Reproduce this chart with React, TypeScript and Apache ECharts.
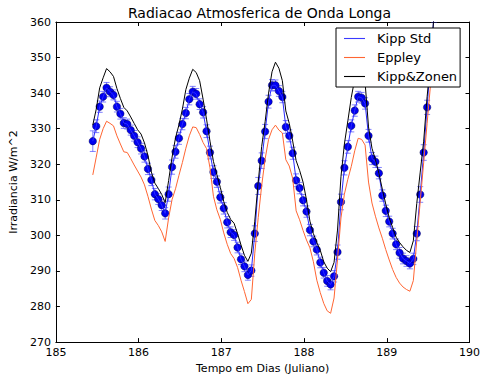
import React, { useEffect, useRef } from 'react';
import * as echarts from 'echarts';

// Hourly samples starting at day 185.446 (Julian day)
const startDay = 185.446;
const hourStep = 1 / 24;

const kippStd = [
  326.5, 330.7, 336.2, 339, 341.5, 340.4, 339.5, 336.2, 334.2, 331.6,
  331.3, 329.6, 328, 326.2, 324.4, 322.2, 318.7, 315.6, 311.6, 310.2,
  308.5, 306.2, 311.6, 319.2, 323.5, 327.3, 331.3, 334.4, 338.3, 340.4,
  339.8, 336.9, 334.6, 329.3, 323.3, 317.8, 315.1, 310.7, 307.6, 303.7,
  300.9, 300.1, 296.6, 293.3, 291.3, 288.9, 290.1, 300.5, 313.9, 321,
  329.2, 337.6, 342.2, 342.2, 340.6, 338.9, 330.5, 328, 323.1, 315.5,
  313.3, 309.9, 306.7, 301.5, 298.3, 296, 292.4, 289.5, 287.2, 286.2,
  288.5, 295.3, 309.4, 319, 324.9, 330.8, 335.1, 339, 338.7, 337.1,
  328, 321.6, 320.7, 317.5, 311.2, 306.9, 303.9, 300.5, 297.5, 295.1,
  293.5, 292.8, 292.1, 293.4, 300.5, 311.5, 323.3, 336, 349, 362,
];

const kippStdErr = [
  2.9, 1.8, 1.6, 1.5, 1.5, 1.4, 1.4, 1.5, 1.5, 1.5,
  1.4, 1.4, 1.5, 1.5, 1.5, 1.6, 1.6, 1.6, 1.6, 1.5,
  1.5, 1.6, 2.0, 2.0, 1.8, 1.7, 1.6, 1.6, 1.6, 1.5,
  1.5, 1.5, 1.6, 1.8, 1.8, 1.8, 1.6, 1.6, 1.6, 1.6,
  1.5, 1.5, 1.5, 1.5, 1.5, 1.5, 1.6, 2.2, 2.4, 2.2,
  2.0, 1.8, 1.6, 1.5, 1.5, 1.6, 1.8, 1.7, 1.7, 1.8,
  1.6, 1.6, 1.6, 1.6, 1.5, 1.5, 1.5, 1.5, 1.5, 1.5,
  1.6, 2.0, 2.2, 2.0, 1.8, 1.7, 1.6, 1.5, 1.5, 1.6,
  1.8, 1.7, 1.6, 1.6, 1.6, 1.6, 1.5, 1.5, 1.5, 1.5,
  1.5, 1.5, 1.5, 1.6, 2.0, 2.2, 2.2, 2.0, 2.0, 2.0,
];

const eppley = [
  317, 322, 327, 330, 332.1, 331.5, 330.8, 328, 325.7, 323.5,
  323.3, 321.6, 319.8, 318.1, 316.4, 314.2, 311, 307.4, 304.2, 302.8,
  301, 298.3, 304.9, 310.1, 313.1, 316.9, 320.5, 324.5, 328, 330.5,
  330.3, 328.4, 326.1, 324.4, 319, 311, 307.2, 304.5, 300.7, 297.5,
  294.9, 293.5, 291, 287.4, 284.2, 280.8, 282, 295, 305, 314,
  321.5, 327, 329.7, 331, 329.6, 328.8, 321.3, 319.5, 316, 306.9,
  304.4, 301.4, 298.7, 296.5, 292.6, 287.4, 283.9, 280.9, 278.8, 278.1,
  282.4, 293.2, 304.9, 311.6, 315.8, 319.4, 323.8, 327.3, 327, 325.4,
  315, 309.1, 305.4, 302.1, 299.2, 296, 293.1, 290.4, 288.2, 286.6,
  285.5, 284.8, 284.3, 287.3, 298.5, 309.5, 320.5, 331.5, 342.5, 353,
];

const kippZonen = [
  331, 335.5, 341.5, 344.3, 346.9, 346, 344.7, 341.3, 338.5, 336,
  335, 333.3, 331.5, 329.7, 328.5, 326, 322.5, 317.8, 314.7, 313.2,
  311.5, 309.2, 315.4, 322, 327.4, 331.1, 335.5, 341, 344.2, 346.7,
  345.8, 343.5, 338.3, 332.7, 326.5, 320.8, 317.1, 313.5, 309.5, 306.5,
  304.5, 303.4, 300.5, 297.3, 294.4, 292.7, 295, 304, 315, 325,
  332, 340, 346, 348.7, 347, 343.5, 335, 331.5, 326.5, 321,
  318.3, 315, 310, 304, 300.5, 298, 295.8, 292.6, 290.8, 289.8,
  292.4, 301.5, 316.5, 325.7, 332.2, 338.8, 344, 347, 347.5, 343,
  330.5, 324.5, 321.3, 317.5, 313, 308.8, 305, 302.2, 299.5, 298,
  296.8, 295.8, 295.2, 298.5, 309, 317.8, 326.5, 339, 349, 362,
];

const seriesNames = ['Kipp Std', 'Eppley', 'Kipp&Zonen'];
const titleText = 'Radiacao Atmosferica de Onda Longa';
const xAxisName = 'Tempo em Dias (Juliano)';
const yAxisName = 'Irradiancia W/m^2';

const days = kippStd.map((_, i) => startDay + i * hourStep);
const pairs = (vals: number[]) => vals.map((v, i) => [days[i], v]);

const LINE_ICON = 'path://M0,0H21V1.1H0Z';

export default function App() {
  const ref = useRef<HTMLDivElement>(null);

  useEffect(() => {
    document.body.style.margin = '0';
    if (!ref.current) return;
    const chart = echarts.init(ref.current, null, { renderer: 'svg' });
    const font = 'DejaVu Sans';
    const axisCommon = {
      type: 'value',
      axisLine: { show: true, onZero: false, lineStyle: { color: '#000', width: 1 } },
      axisTick: { show: true, inside: true, length: 4, lineStyle: { color: '#000', width: 1 } },
      splitLine: { show: false },
    };
    chart.setOption({
      animation: false,
      backgroundColor: '#ffffff',
      textStyle: { fontFamily: font },
      grid: { left: 48, right: 12, top: 22, bottom: 27, containLabel: false },
      graphic: [
        {
          type: 'text',
          x: 259.5,
          y: 13,
          style: {
            text: titleText,
            font: `14px "${font}"`,
            fill: '#000',
            align: 'center',
            verticalAlign: 'middle',
            textAlign: 'center',
            textVerticalAlign: 'middle',
          },
        },
      ],
      legend: {
        show: true,
        orient: 'vertical',
        left: 336,
        top: 28,
        data: seriesNames.map((n) => ({ name: n, icon: LINE_ICON })),
        itemWidth: 21,
        itemHeight: 14,
        itemGap: 6,
        padding: [4, 3, 4, 8],
        backgroundColor: '#fff',
        borderColor: '#000',
        borderWidth: 1,
        borderRadius: 0,
        selectedMode: false,
        textStyle: { fontSize: 13, color: '#000', fontFamily: font, padding: [0, 0, 0, 7] },
      },
      xAxis: [
        {
          ...axisCommon,
          min: 185,
          max: 190,
          interval: 1,
          position: 'bottom',
          name: xAxisName,
          nameLocation: 'middle',
          nameGap: 15,
          nameTextStyle: { fontSize: 11, color: '#000', fontFamily: font },
          axisLabel: { fontSize: 11, color: '#000', margin: 5, fontFamily: font },
        },
        {
          ...axisCommon,
          min: 185,
          max: 190,
          interval: 1,
          position: 'top',
          axisLabel: { show: false },
        },
      ],
      yAxis: [
        {
          ...axisCommon,
          min: 270,
          max: 360,
          interval: 10,
          position: 'left',
          name: yAxisName,
          nameLocation: 'middle',
          nameGap: 30,
          nameTextStyle: { fontSize: 11, color: '#000', fontFamily: font },
          axisLabel: { fontSize: 11, color: '#000', margin: 5, fontFamily: font },
        },
        {
          ...axisCommon,
          min: 270,
          max: 360,
          interval: 10,
          position: 'right',
          axisLabel: { show: false },
        },
      ],
      series: [
        {
          type: 'custom',
          name: 'Kipp Std erro',
          clip: true,
          xAxisIndex: 0,
          yAxisIndex: 0,
          data: kippStd.map((v, i) => [days[i], v, kippStdErr[i]]),
          encode: { x: 0, y: 1 },
          renderItem: (params: any, api: any) => {
            const x = api.value(0);
            const y = api.value(1);
            const e = api.value(2);
            const hi = api.coord([x, y + e]);
            const lo = api.coord([x, y - e]);
            const cap = 3;
            const style = { stroke: 'rgba(50,50,255,0.6)', lineWidth: 1 };
            return {
              type: 'group',
              children: [
                { type: 'line', shape: { x1: hi[0], y1: hi[1], x2: lo[0], y2: lo[1] }, style },
                { type: 'line', shape: { x1: hi[0] - cap, y1: hi[1], x2: hi[0] + cap, y2: hi[1] }, style },
                { type: 'line', shape: { x1: lo[0] - cap, y1: lo[1], x2: lo[0] + cap, y2: lo[1] }, style },
              ],
            };
          },
        },
        {
          type: 'line',
          name: 'Kipp Std',
          data: pairs(kippStd),
          symbol: 'none',
          clip: true,
          lineStyle: { color: '#2a2aff', width: 1 },
          itemStyle: { color: '#3a3aff' },
        },
        {
          type: 'scatter',
          name: 'Kipp Std pontos',
          data: pairs(kippStd),
          symbolSize: 7.5,
          clip: true,
          itemStyle: { color: '#0000f0', borderColor: '#000033', borderWidth: 0.4, opacity: 1 },
        },
        {
          type: 'line',
          name: 'Eppley',
          data: pairs(eppley),
          symbol: 'none',
          clip: true,
          lineStyle: { color: '#ff6633', width: 1 },
          itemStyle: { color: '#ff6633' },
        },
        {
          type: 'line',
          name: 'Kipp&Zonen',
          data: pairs(kippZonen),
          symbol: 'none',
          clip: true,
          lineStyle: { color: '#000000', width: 1 },
          itemStyle: { color: '#000000' },
        },
      ],
    });
    return () => chart.dispose();
  }, []);

  return (
    <div
      ref={ref}
      style={{ position: 'absolute', left: 0, top: 0, width: 483, height: 379 }}
    />
  );
}
